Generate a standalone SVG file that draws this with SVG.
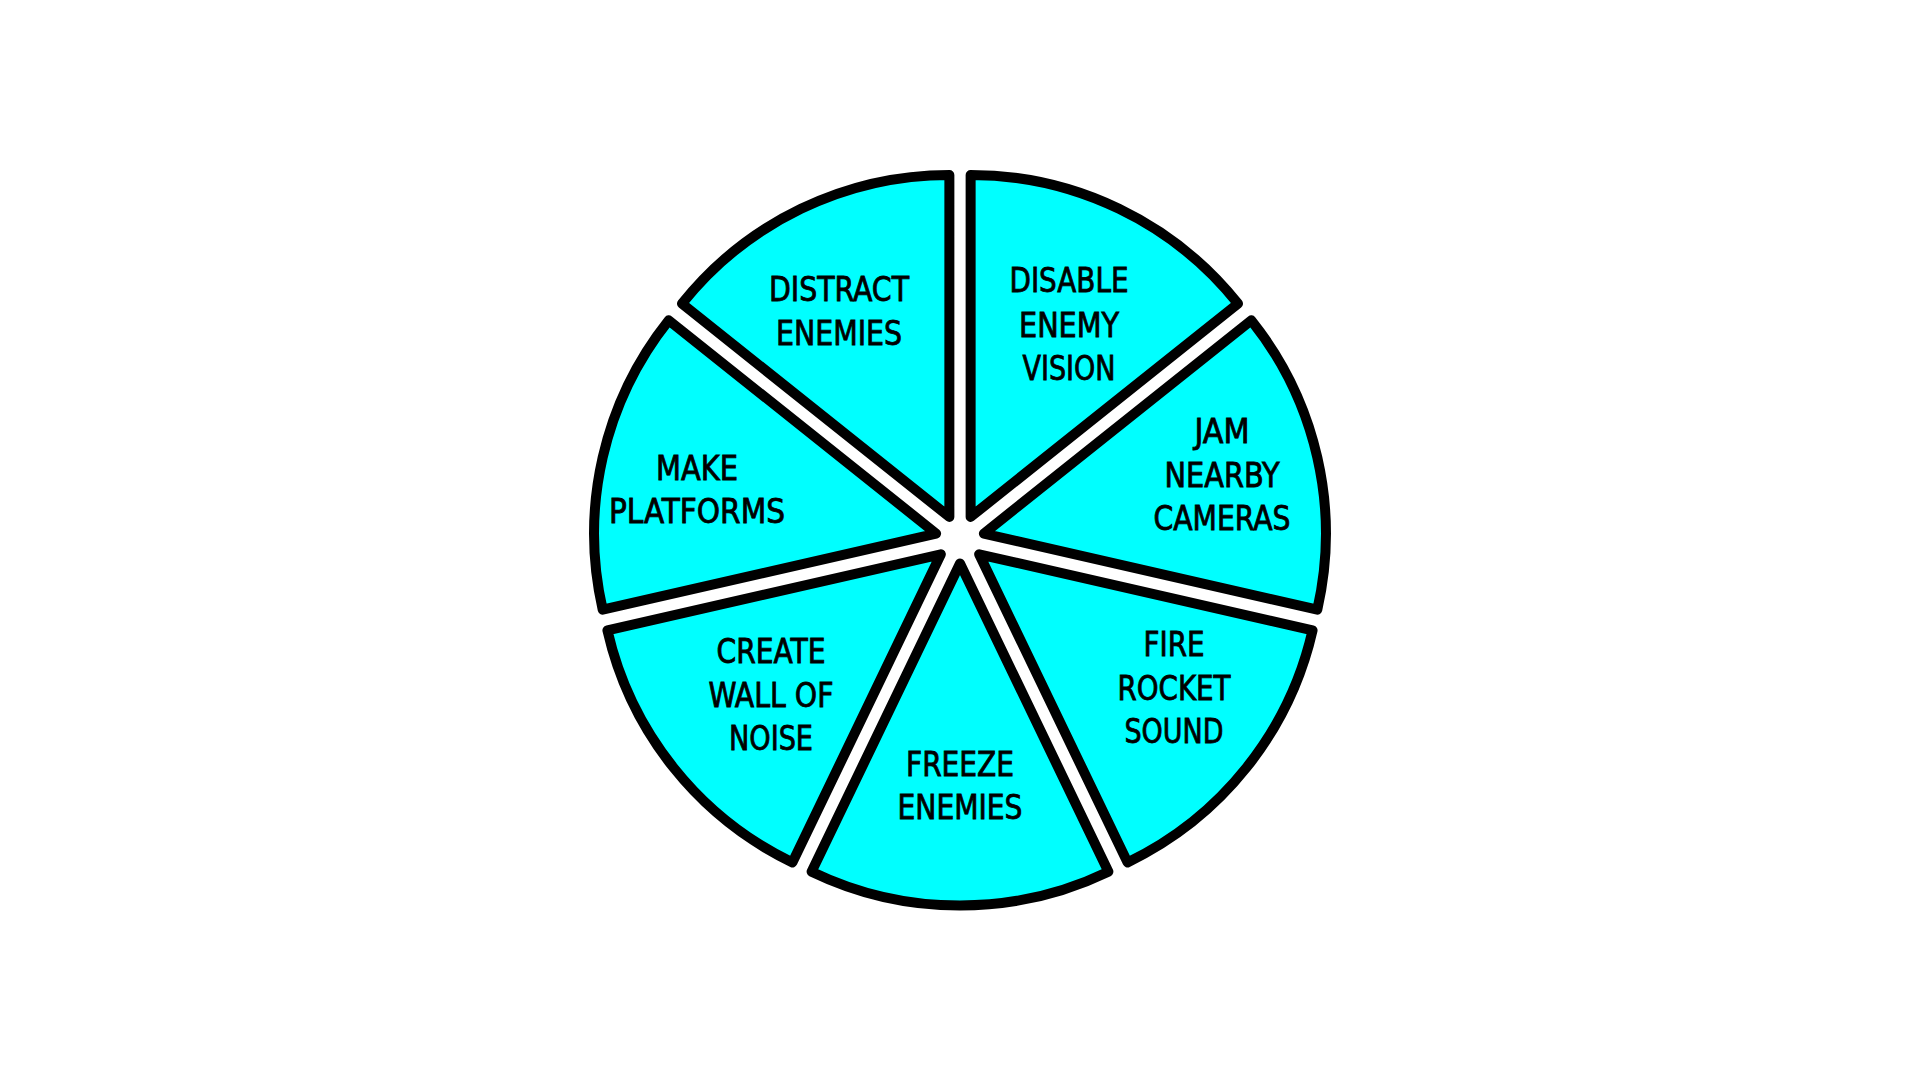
<svg xmlns="http://www.w3.org/2000/svg" xmlns:xlink="http://www.w3.org/1999/xlink" width="1920" height="1080" viewBox="0 0 1920 1080">
<style>
.wedge{fill:#00ffff;stroke:#000;stroke-width:10;stroke-linejoin:round}
.lbl{font-family:"DejaVu Sans Condensed","DejaVu Sans","Liberation Sans",sans-serif;font-stretch:condensed;font-size:34px;fill:#000;stroke:#000;stroke-width:0.8;text-anchor:middle}
</style>
<defs>
<path id="wedge" d="M0,-24.5 L-148.39,-332.63 A342,342 0 0 1 148.39,-332.63 Z"/>
</defs>
<rect width="1920" height="1080" fill="#fff"/>
<g id="connectors"/>
<g id="disable">
<use xlink:href="#wedge" class="wedge" transform="translate(960,539) rotate(25.714)"/>
<text class="lbl" x="1069" y="292" textLength="119" lengthAdjust="spacingAndGlyphs">DISABLE</text>
<text class="lbl" x="1069" y="337" textLength="100" lengthAdjust="spacingAndGlyphs">ENEMY</text>
<text class="lbl" x="1069" y="380" textLength="93" lengthAdjust="spacingAndGlyphs">VISION</text>
</g>
<g id="jam">
<use xlink:href="#wedge" class="wedge" transform="translate(960,539) rotate(77.143)"/>
<text class="lbl" x="1222" y="443" textLength="55" lengthAdjust="spacingAndGlyphs">JAM</text>
<text class="lbl" x="1222" y="487" textLength="115" lengthAdjust="spacingAndGlyphs">NEARBY</text>
<text class="lbl" x="1222" y="530" textLength="137" lengthAdjust="spacingAndGlyphs">CAMERAS</text>
</g>
<g id="fire">
<use xlink:href="#wedge" class="wedge" transform="translate(960,539) rotate(128.571)"/>
<text class="lbl" x="1174" y="656" textLength="61" lengthAdjust="spacingAndGlyphs">FIRE</text>
<text class="lbl" x="1174" y="700" textLength="113" lengthAdjust="spacingAndGlyphs">ROCKET</text>
<text class="lbl" x="1174" y="743" textLength="99" lengthAdjust="spacingAndGlyphs">SOUND</text>
</g>
<g id="freeze">
<use xlink:href="#wedge" class="wedge" transform="translate(960,539) rotate(180)"/>
<text class="lbl" x="960" y="776" textLength="108" lengthAdjust="spacingAndGlyphs">FREEZE</text>
<text class="lbl" x="960" y="819" textLength="125" lengthAdjust="spacingAndGlyphs">ENEMIES</text>
</g>
<g id="create">
<use xlink:href="#wedge" class="wedge" transform="translate(960,539) rotate(231.429)"/>
<text class="lbl" x="771" y="663" textLength="109" lengthAdjust="spacingAndGlyphs">CREATE</text>
<text class="lbl" x="771" y="707" textLength="125" lengthAdjust="spacingAndGlyphs">WALL OF</text>
<text class="lbl" x="771" y="750" textLength="84" lengthAdjust="spacingAndGlyphs">NOISE</text>
</g>
<g id="make">
<use xlink:href="#wedge" class="wedge" transform="translate(960,539) rotate(282.857)"/>
<text class="lbl" x="697" y="480" textLength="82" lengthAdjust="spacingAndGlyphs">MAKE</text>
<text class="lbl" x="697" y="523" textLength="176" lengthAdjust="spacingAndGlyphs">PLATFORMS</text>
</g>
<g id="distract">
<use xlink:href="#wedge" class="wedge" transform="translate(960,539) rotate(334.286)"/>
<text class="lbl" x="839" y="301" textLength="140" lengthAdjust="spacingAndGlyphs">DISTRACT</text>
<text class="lbl" x="839" y="345" textLength="126" lengthAdjust="spacingAndGlyphs">ENEMIES</text>
</g>
</svg>
